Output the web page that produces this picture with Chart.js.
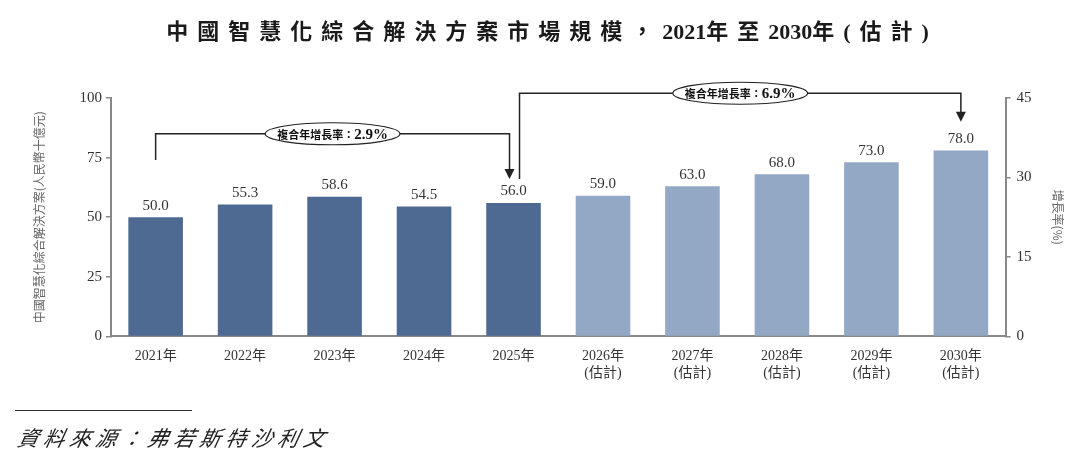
<!DOCTYPE html>
<html>
<head>
<meta charset="utf-8">
<script src="https://cdn.jsdelivr.net/npm/chart.js@4.4.1/dist/chart.umd.min.js"></script>
<style>
  html, body { margin:0; padding:0; background:#fff; }
  #wrap { position:relative; width:1080px; height:455px; }
  #title { position:absolute; left:12px; top:13px; width:1080px; text-align:center;
    font-family:"Liberation Serif","Noto Sans CJK TC",serif; font-weight:bold; font-size:22px;
    color:#1a1a1a; letter-spacing:9px; white-space:nowrap; }
  #title .num { letter-spacing:0; }
  #rule { position:absolute; left:15px; top:410px; width:177px; height:0; border-top:1.5px solid #333; }
  #source { position:absolute; left:15px; top:422px; font-family:"Noto Sans CJK TC",sans-serif;
    font-size:21px; font-style:italic; color:#222; letter-spacing:5px; transform:skewX(-12deg); transform-origin:left bottom; }
  canvas { position:absolute; left:0; top:0; }
</style>
</head>
<body>
<div id="wrap">
  <canvas id="c" width="1080" height="455"></canvas>
  <div id="title">中國智慧化綜合解決方案市場規模，<span class="num">2021</span>年至<span class="num">2030</span>年(估計)</div>
  <div id="rule"></div>
  <div id="source">資料來源：弗若斯特沙利文</div>
</div>
<script>
const categories = [
  '2021年','2022年','2023年','2024年','2025年',
  ['2026年','(估計)'],['2027年','(估計)'],['2028年','(估計)'],['2029年','(估計)'],['2030年','(估計)']
];
const marketSize = [50.0, 55.3, 58.6, 54.5, 56.0, 59.0, 63.0, 68.0, 73.0, 78.0];
const isEstimate = [false,false,false,false,false,true,true,true,true,true];
const leftTicks = [0, 25, 50, 75, 100];
const rightTicks = [0, 15, 30, 45];
const cagrText = ['2.9%', '6.9%'];
const cagrPrefix = '複合年增長率：';
const cagrFrom = [0, 4];
const cagrTo = [4, 9];
const cagrStart = [74, 66];   // value where bracket starts (left leg)
const cagrLevel = [85, 102];  // value of horizontal line
const cagrEnd = [66, 90];     // value of arrow tip

const DARK = '#4e6a93';
const LIGHT = '#92a8c5';
const SERIF = '"Liberation Serif","Noto Sans CJK TC",serif';

const valueLabels = {
  id: 'valueLabels',
  afterDatasetsDraw(chart) {
    const ctx = chart.ctx;
    const meta = chart.getDatasetMeta(0);
    ctx.save();
    ctx.font = '15px ' + SERIF;
    ctx.fillStyle = '#333';
    ctx.textAlign = 'center';
    ctx.textBaseline = 'bottom';
    meta.data.forEach((bar, i) => {
      ctx.fillText(marketSize[i].toFixed(1), bar.x, bar.y - 4);
    });
    ctx.restore();
  }
};

const cagrArrows = {
  id: 'cagrArrows',
  afterDatasetsDraw(chart) {
    const ctx = chart.ctx;
    const xs = chart.scales.x, ys = chart.scales.y;
    ctx.save();
    for (let k = 0; k < cagrText.length; k++) {
      const offs = k === 0 ? 0 : 6;
      const x1 = xs.getPixelForValue(cagrFrom[k]) + offs;
      const x2 = xs.getPixelForValue(cagrTo[k]) - (k === 0 ? 4 : 0);
      const yS = ys.getPixelForValue(cagrStart[k]);
      const yL = ys.getPixelForValue(cagrLevel[k]);
      const yE = ys.getPixelForValue(cagrEnd[k]);
      ctx.strokeStyle = '#222';
      ctx.lineWidth = 1.5;
      ctx.beginPath();
      ctx.moveTo(x1, yS);
      ctx.lineTo(x1, yL);
      ctx.lineTo(x2, yL);
      ctx.lineTo(x2, yE - 9);
      ctx.stroke();
      ctx.fillStyle = '#222';
      ctx.beginPath();
      ctx.moveTo(x2 - 5, yE - 10);
      ctx.lineTo(x2 + 5, yE - 10);
      ctx.lineTo(x2, yE);
      ctx.closePath();
      ctx.fill();
      // label ellipse
      const cx = (x1 + x2) / 2;
      ctx.font = 'bold 11px "Noto Sans CJK TC",sans-serif';
      const w1 = ctx.measureText(cagrPrefix).width;
      ctx.font = 'bold 15px ' + SERIF;
      const w2 = ctx.measureText(cagrText[k]).width;
      const tw = w1 + w2;
      const rx = tw / 2 + 12, ry = 11;
      ctx.beginPath();
      ctx.ellipse(cx, yL, rx, ry, 0, 0, Math.PI * 2);
      ctx.fillStyle = '#fff';
      ctx.fill();
      ctx.lineWidth = 1.2;
      ctx.stroke();
      ctx.fillStyle = '#111';
      ctx.textBaseline = 'middle';
      ctx.textAlign = 'left';
      ctx.font = 'bold 11px "Noto Sans CJK TC",sans-serif';
      ctx.fillText(cagrPrefix, cx - tw / 2, yL + 1);
      ctx.font = 'bold 15px ' + SERIF;
      ctx.fillText(cagrText[k], cx - tw / 2 + w1, yL + 1);
    }
    ctx.restore();
  }
};

new Chart(document.getElementById('c'), {
  type: 'bar',
  data: {
    labels: categories,
    datasets: [{
      data: marketSize,
      backgroundColor: isEstimate.map(e => e ? LIGHT : DARK),
      barPercentage: 0.61,
      categoryPercentage: 1.0,
      yAxisID: 'y'
    }]
  },
  options: {
    responsive: false,
    animation: false,
    devicePixelRatio: 1,
    layout: { padding: { top: 98, left: 32, right: 15, bottom: 69 } },
    plugins: { legend: { display: false }, tooltip: { enabled: false }, title: { display: false } },
    scales: {
      x: {
        grid: { display: false },
        border: { display: true, color: '#888', width: 2 },
        ticks: { color: '#333', font: { family: SERIF, size: 14 }, padding: 4, maxRotation: 0, autoSkip: false }
      },
      y: {
        position: 'left',
        min: 0, max: 100,
        afterBuildTicks: s => { s.ticks = leftTicks.map(v => ({ value: v })); },
        grid: { drawOnChartArea: false, drawTicks: true, tickLength: 5, color: '#888', lineWidth: 1.5 },
        border: { display: true, color: '#888', width: 2 },
        ticks: { color: '#333', font: { family: SERIF, size: 15 }, padding: 4 },
        title: { display: true, text: '中國智慧化綜合解決方案(人民幣十億元)', color: '#666',
          font: { family: '"Noto Sans CJK TC",sans-serif', size: 12 }, padding: { top: 0, bottom: 29 } }
      },
      y2: {
        position: 'right',
        min: 0, max: 45,
        afterBuildTicks: s => { s.ticks = rightTicks.map(v => ({ value: v })); },
        grid: { drawOnChartArea: false, drawTicks: true, tickLength: 5, color: '#888', lineWidth: 1.5 },
        border: { display: true, color: '#888', width: 2 },
        ticks: { color: '#333', font: { family: SERIF, size: 15 }, padding: 6 },
        title: { display: true, text: '增長率(%)', color: '#666',
          font: { family: '"Noto Sans CJK TC",sans-serif', size: 12 }, padding: { top: 0, bottom: 13 } }
      }
    }
  },
  plugins: [valueLabels, cagrArrows]
});
</script>
</body>
</html>
